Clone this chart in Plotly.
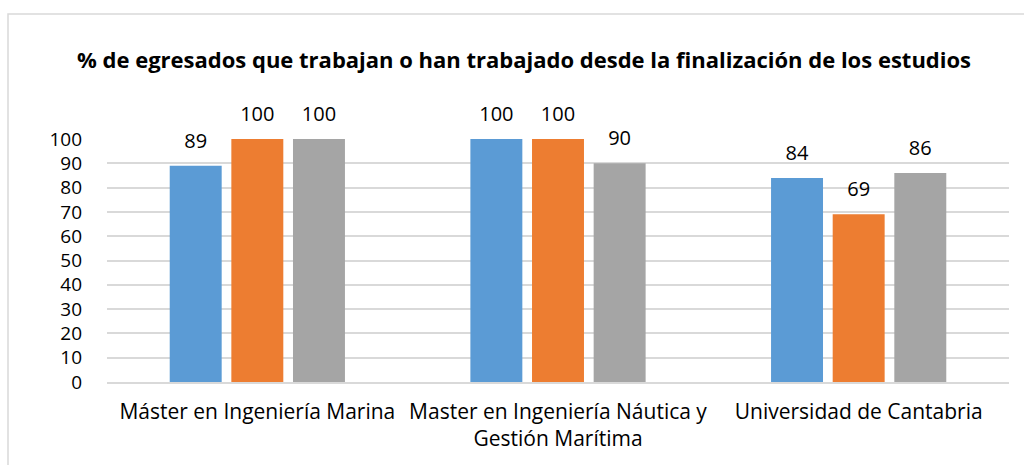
import plotly.graph_objects as go

categories = ["Máster en Ingeniería Marina",
              "Master en Ingeniería Náutica y<br>Gestión Marítima",
              "Universidad de Cantabria"]
series_names = ["Serie 1", "Serie 2", "Serie 3"]
serie1 = [89, 100, 84]
serie2 = [100, 100, 69]
serie3 = [100, 90, 86]
colors = ["#5B9BD5", "#ED7D31", "#A5A5A5"]
title = "% de egresados que trabajan o han trabajado desde la finalización de los estudios"
y_ticks = list(range(0, 101, 10))

FONT = "Open Sans"
W, H = 1024, 465
ml, mr, mt, mb = 107, 15, 139, 83
pw, ph = W - ml - mr, H - mt - mb

fig = go.Figure()
for name, vals, col in zip(series_names, [serie1, serie2, serie3], colors):
    fig.add_trace(go.Bar(
        x=categories, y=vals, name=name,
        marker=dict(color=col, line=dict(width=0)),
        cliponaxis=False,
    ))
# data labels, grouped the same way as the bars
for name, vals in zip(series_names, [serie1, serie2, serie3]):
    fig.add_trace(go.Scatter(
        x=categories, y=vals, name=name + " etiqueta", mode="markers+text",
        marker=dict(size=19, opacity=0),
        text=[str(v) for v in vals], textposition="top center",
        textfont=dict(family=FONT, size=20, color="#000000"),
        cliponaxis=False, hoverinfo="skip",
    ))

# outer chart border (light gray)
px = lambda v: (v - ml) / pw
py = lambda v: (H - mb - v) / ph
fig.add_shape(type="rect", xref="paper", yref="paper",
              x0=px(8), x1=px(1060), y0=py(520), y1=py(14),
              line=dict(color="#D9D9D9", width=1.5), fillcolor="rgba(0,0,0,0)", layer="below")

fig.update_layout(
    width=W, height=H,
    margin=dict(l=ml, r=mr, t=mt, b=mb),
    paper_bgcolor="white", plot_bgcolor="white",
    barmode="group", bargap=0.385, bargroupgap=0.157,
    scattermode="group", scattergap=0.385,
    showlegend=False,
    font=dict(family=FONT, size=20, color="#000000"),
    title=dict(text="<b>" + title + "</b>", x=524 / W, xanchor="center",
               y=1 - 60 / H, yanchor="middle", yref="container",
               font=dict(family=FONT, size=22, color="#000000")),
)
fig.update_yaxes(range=[0, 100], tickvals=y_ticks, showgrid=True, gridcolor="#D9D9D9",
                 gridwidth=1.5, zeroline=False, showline=False, ticks="",
                 ticklabelstandoff=24, tickfont=dict(family=FONT, size=19, color="#000000"))
fig.update_xaxes(showline=True, linecolor="#D9D9D9", linewidth=1.5, ticks="",
                 showgrid=False, tickfont=dict(family=FONT, size=21, color="#000000"),
                 ticklabelstandoff=10)

fig.write_html("out.html", config={"displayModeBar": False},
               post_script="document.body.style.margin='0px';")
